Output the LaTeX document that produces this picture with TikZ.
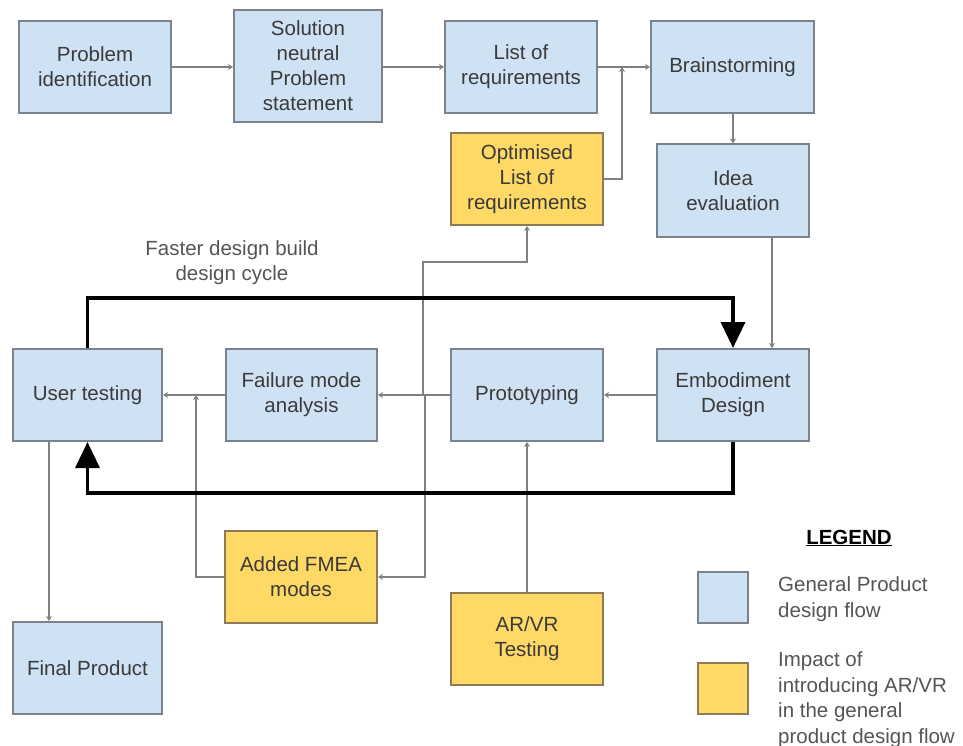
\documentclass[tikz,border=0pt]{standalone}
\usepackage{fontspec}
\setmainfont{Liberation Sans}
\usetikzlibrary{arrows.meta}
\definecolor{bluefill}{HTML}{CFE2F3}
\definecolor{blueline}{HTML}{7A838C}
\definecolor{yelfill}{HTML}{FFD966}
\definecolor{yelline}{HTML}{8C7B55}
\definecolor{conncol}{HTML}{808080}
\definecolor{txtcol}{HTML}{3A3A3A}
\definecolor{softtxt}{HTML}{555555}
\begin{document}
\begin{tikzpicture}[x=1pt,y=-1pt,
  box/.style={draw, line width=2pt, minimum width=152pt, minimum height=92pt, inner sep=0pt, align=center, text=txtcol, font=\fontsize{20.5}{25}\selectfont},
  bluebox/.style={box, fill=bluefill, draw=blueline},
  yelbox/.style={box, fill=yelfill, draw=yelline},
  legsq/.style={draw, line width=2pt, minimum width=50pt, minimum height=51pt, inner sep=0pt},
  conn/.style={draw=conncol, line width=1.6pt, -{Stealth[length=5pt,width=6pt]}},
  bigloop/.style={draw=black, line width=3.5pt, -{Triangle[length=26pt,width=24pt]}},
  plaintext/.style={text=softtxt, font=\fontsize{20.5}{25.5}\selectfont, inner sep=0pt}
]
\useasboundingbox (0,0) rectangle (963,746);

% top row
\node[bluebox] (pi) at (95,67) {Problem\\identification};
\node[bluebox, minimum width=148pt, minimum height=112pt] (sn) at (308,66) {Solution\\neutral\\Problem\\statement};
\node[bluebox] (lr) at (521,67) {List of\\requirements};
\node[bluebox, minimum width=163pt] (bs) at (732.5,67) {Brainstorming};
\node[yelbox] (olr) at (527,179) {Optimised\\List of\\requirements};
\node[bluebox] (ie) at (733,190.5) {Idea\\evaluation};

% middle row
\node[bluebox, minimum width=149pt] (ut) at (87.5,395) {User testing};
\node[bluebox, minimum width=151pt] (fm) at (301.5,395) {Failure mode\\analysis};
\node[bluebox] (pr) at (527,395) {Prototyping};
\node[bluebox] (ed) at (733,395) {Embodiment\\Design};

% bottom row
\node[yelbox] (af) at (301,577) {Added FMEA\\modes};
\node[bluebox, minimum width=149pt] (fp) at (87.5,668) {Final Product};
\node[yelbox] (ar) at (527,639) {AR/VR\\Testing};

% loop label
\node[plaintext, align=center] (fd) at (232,262.5) {Faster design build\\design cycle};

% legend
\node[font=\fontsize{20.5}{25}\selectfont\bfseries, text=black, inner sep=0pt] (lgt) at (849,538) {\underline{LEGEND}};
\node[legsq, fill=bluefill, draw=blueline] (lg1) at (723,597.5) {};
\node[legsq, fill=yelfill, draw=yelline] (lg2) at (723,688.5) {};
\node[plaintext, align=left, anchor=west] (lg1t) at (778,599) {General Product\\design flow};
\node[plaintext, align=left, anchor=west] (lg2t) at (778,699.5) {Impact of\\introducing AR/VR\\in the general\\product design flow};

% coordinates
\coordinate (j1) at (622,67);
\coordinate (oa) at (423,262);
\coordinate (fa) at (425,577);
\coordinate (fb) at (196,395);
\coordinate (looptop) at (400,298);
\coordinate (loopbot) at (400,493);

% connectors top
\draw[conn] (pi.east) -- (sn.west |- pi.east);
\draw[conn] (sn.east |- lr.west) -- (lr.west);
\draw[conn] (lr.east) -- (bs.west);
\draw[conn] (olr.east) -| (j1);
\draw[conn] (bs.south -| ie.north) -- (ie.north);
\draw[conn] ([xshift=39pt]ie.south) -- ([xshift=39pt]ed.north);

% middle connectors
\draw[conn] (ed.west) -- (pr.east);
\draw[conn] (pr.west) -- (fm.east);
\draw[conn] (fm.west) -- (ut.east);
\draw[conn] (pr.west) -| (oa) -| (olr.south);
\draw[conn] (pr.west) -| (fa) -- (af.east);
\draw[conn] (af.west) -| (fb);
\draw[conn] (ar.north) -- (pr.south);
\draw[conn] ([xshift=-38.5pt]ut.south) -- ([xshift=-38.5pt]fp.north);

% thick loop
\draw[bigloop] (ut.north) |- (looptop) -| (ed.north);
\draw[bigloop] (ed.south) |- (loopbot) -| (ut.south);
\end{tikzpicture}
\end{document}
